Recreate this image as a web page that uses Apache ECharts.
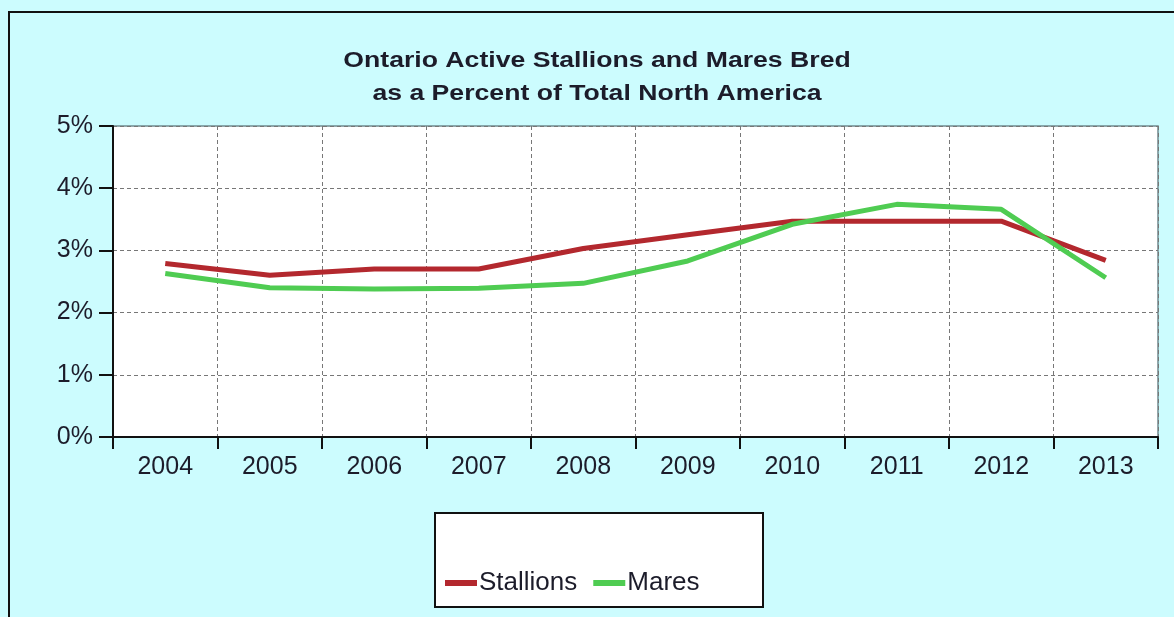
<!DOCTYPE html>
<html>
<head>
<meta charset="utf-8">
<script src="https://cdn.jsdelivr.net/npm/echarts@6/dist/echarts.min.js"></script>
<style>
html,body{margin:0;padding:0;background:#ccfcfe;}
#chart{width:1174px;height:617px;}
</style>
</head>
<body>
<div id="chart"></div>
<script>
const years = ['2004','2005','2006','2007','2008','2009','2010','2011','2012','2013'];
const stallions = [2.79, 2.60, 2.70, 2.70, 3.03, 3.25, 3.47, 3.47, 3.47, 2.84];
const mares = [2.63, 2.40, 2.38, 2.39, 2.47, 2.83, 3.42, 3.74, 3.66, 2.56];
const yTicks = [0, 1, 2, 3, 4, 5];
const titleLines = ['Ontario Active Stallions and Mares Bred', 'as a Percent of Total North America'];

const chart = echarts.init(document.getElementById('chart'));
const txt = '#1c1c2a';
const font = 'Liberation Sans, Arial, sans-serif';
chart.setOption({
  backgroundColor: '#ccfcfe',
  animation: false,
  graphic: [
    {type: 'rect', shape: {x: 9, y: 12, width: 1200, height: 700},
     style: {fill: 'none', stroke: '#111', lineWidth: 2}, z: 100},
    {type: 'rect', shape: {x: 435, y: 513, width: 328, height: 94},
     style: {fill: '#ffffff', stroke: '#111', lineWidth: 2}, z: 1},
    {type: 'text', x: 597, y: 61, scaleX: 1.21, originX: 0,
     style: {text: titleLines[0], textAlign: 'center', textVerticalAlign: 'middle',
             font: 'bold 22px Liberation Sans, Arial, sans-serif', fill: txt}},
    {type: 'text', x: 597, y: 94, scaleX: 1.21, originX: 0,
     style: {text: titleLines[1], textAlign: 'center', textVerticalAlign: 'middle',
             font: 'bold 22px Liberation Sans, Arial, sans-serif', fill: txt}}
  ],
  legend: {
    left: 440, top: 565,
    icon: 'rect', itemWidth: 32, itemHeight: 6, itemGap: 16,
    textStyle: {fontFamily: font, fontSize: 26, color: txt, padding: [0,0,0,-3]},
    data: ['Stallions', 'Mares'],
    z: 5
  },
  grid: {left: 113, right: 16, top: 126, bottom: 180, show: true,
         backgroundColor: '#ffffff', borderColor: '#6f8a90', borderWidth: 1.5},
  xAxis: {
    type: 'category', data: years, boundaryGap: true,
    axisLine: {lineStyle: {color: '#111', width: 2}},
    axisTick: {show: true, length: 12, lineStyle: {color: '#111', width: 2}},
    axisLabel: {fontFamily: font, fontSize: 25, color: txt, margin: 18},
    splitLine: {show: true, lineStyle: {color: '#777', type: [4, 3], width: 1}}
  },
  yAxis: {
    type: 'value', min: yTicks[0], max: yTicks[yTicks.length-1], interval: 1,
    axisLine: {show: true, lineStyle: {color: '#111', width: 2}},
    axisTick: {show: true, length: 14, lineStyle: {color: '#111', width: 2}},
    axisLabel: {fontFamily: font, fontSize: 25, color: txt, margin: 20, formatter: '{value}%'},
    splitLine: {show: true, lineStyle: {color: '#777', type: [4, 3], width: 1}}
  },
  series: [
    {name: 'Stallions', type: 'line', data: stallions, symbol: 'none',
     color: '#b3282e', lineStyle: {width: 5, color: '#b3282e'}},
    {name: 'Mares', type: 'line', data: mares, symbol: 'none',
     color: '#4fcc52', lineStyle: {width: 5, color: '#4fcc52'}}
  ]
});
</script>
</body>
</html>
